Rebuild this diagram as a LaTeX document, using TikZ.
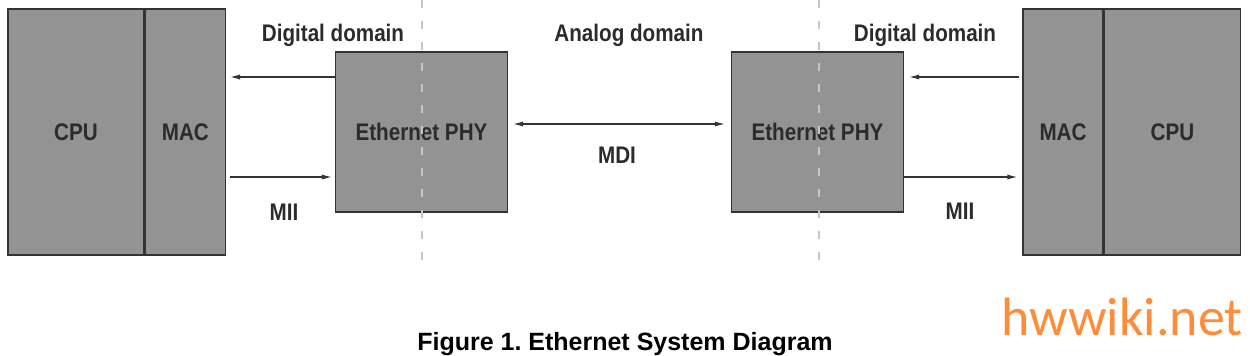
\documentclass[tikz,border=0pt]{standalone}
\usepackage{fontspec}
\setmainfont{Liberation Sans}
\newfontfamily\diagfont[FakeStretch=0.86]{Liberation Sans Bold}
\newfontfamily\markfont{Carlito}
\usepackage{xcolor}
\usetikzlibrary{arrows.meta, positioning}
\frenchspacing

\definecolor{boxgray}{HTML}{939393}
\definecolor{edgegray}{HTML}{333333}
\definecolor{textgray}{HTML}{2B2B2B}
\definecolor{dashgray}{HTML}{C6C6C6}
\definecolor{markorange}{HTML}{FF8C3A}

\begin{document}
\begin{tikzpicture}[
    x=0.5pt, y=-0.5pt,
    font=\diagfont\fontsize{12}{14}\selectfont,
    unitbox/.style={draw=edgegray, line width=0.7pt, fill=boxgray, text=textgray, inner sep=0pt, minimum height=123pt},
    phybox/.style={draw=edgegray, line width=0.7pt, fill=boxgray, text=textgray, inner sep=0pt, minimum width=86pt, minimum height=80pt},
    lbl/.style={text=textgray, inner sep=0pt, anchor=base},
    arr/.style={-{Latex[length=5pt, width=2.6pt]}, draw=edgegray, line width=0.6pt},
    domainline/.style={draw=dashgray, line width=0.7pt, dash pattern=on 4pt off 6.5pt},
]
\useasboundingbox (0,0) rectangle (1250,355);

% Left side: CPU + MAC
\node[unitbox, minimum width=68pt] (lcpu) at (76,132) {CPU};
\node[unitbox, minimum width=40pt, right=0pt of lcpu] (lmac) {MAC};

% PHYs
\node[phybox] (lphy) at (421.5,132) {Ethernet PHY};
\node[phybox] (rphy) at (817.5,132) {Ethernet PHY};

% Right side: MAC + CPU
\node[unitbox, minimum width=40pt] (rmac) at (1063,132) {MAC};
\node[unitbox, minimum width=68pt, right=0pt of rmac] (rcpu) {CPU};

% Domain borders
\draw[domainline] (422,0) -- (422,266);
\draw[domainline] (819,0) -- (819,266);

% Domain labels
\node[lbl] (ldig) at (333,41) {Digital domain};
\node[lbl] (ana) at (629,41) {Analog domain};
\node[lbl] (rdig) at (925,41) {Digital domain};

% MII links
\draw[arr, shorten >=2pt] ([yshift=27.5pt]lphy.west) -- ([yshift=27.5pt]lphy.west -| lmac.east);
\draw[arr, shorten <=2pt, shorten >=1.5pt] ([yshift=-22.5pt]lphy.west -| lmac.east) -- ([yshift=-22.5pt]lphy.west);
\draw[arr, shorten <=1.5pt, shorten >=2.5pt] ([yshift=27.5pt]rphy.east -| rmac.west) -- ([yshift=27.5pt]rphy.east);
\draw[arr, shorten >=2.5pt] ([yshift=-22.5pt]rphy.east) -- ([yshift=-22.5pt]rphy.east -| rmac.west);
\node[lbl] (lmii) at (284,220) {MII};
\node[lbl] (rmii) at (960,219) {MII};

% MDI link
\draw[arr, {Latex[length=5pt, width=2.6pt]}-{Latex[length=5pt, width=2.6pt]}, shorten <=2.5pt, shorten >=3pt] ([yshift=4pt]lphy.east) -- ([yshift=4pt]rphy.west);
\node[lbl] (mdi) at (617,163) {MDI};

% Caption and mark
\node[anchor=base, inner sep=0pt, font=\bfseries\fontsize{12.5}{15}\selectfont] (cap) at (625,350) {Figure 1. Ethernet System Diagram};
\node[anchor=base west, inner sep=0pt, text=markorange, font=\markfont\fontsize{27}{32}\selectfont] (mark) at (1001,335) {hwwiki.net};
\end{tikzpicture}
\end{document}
